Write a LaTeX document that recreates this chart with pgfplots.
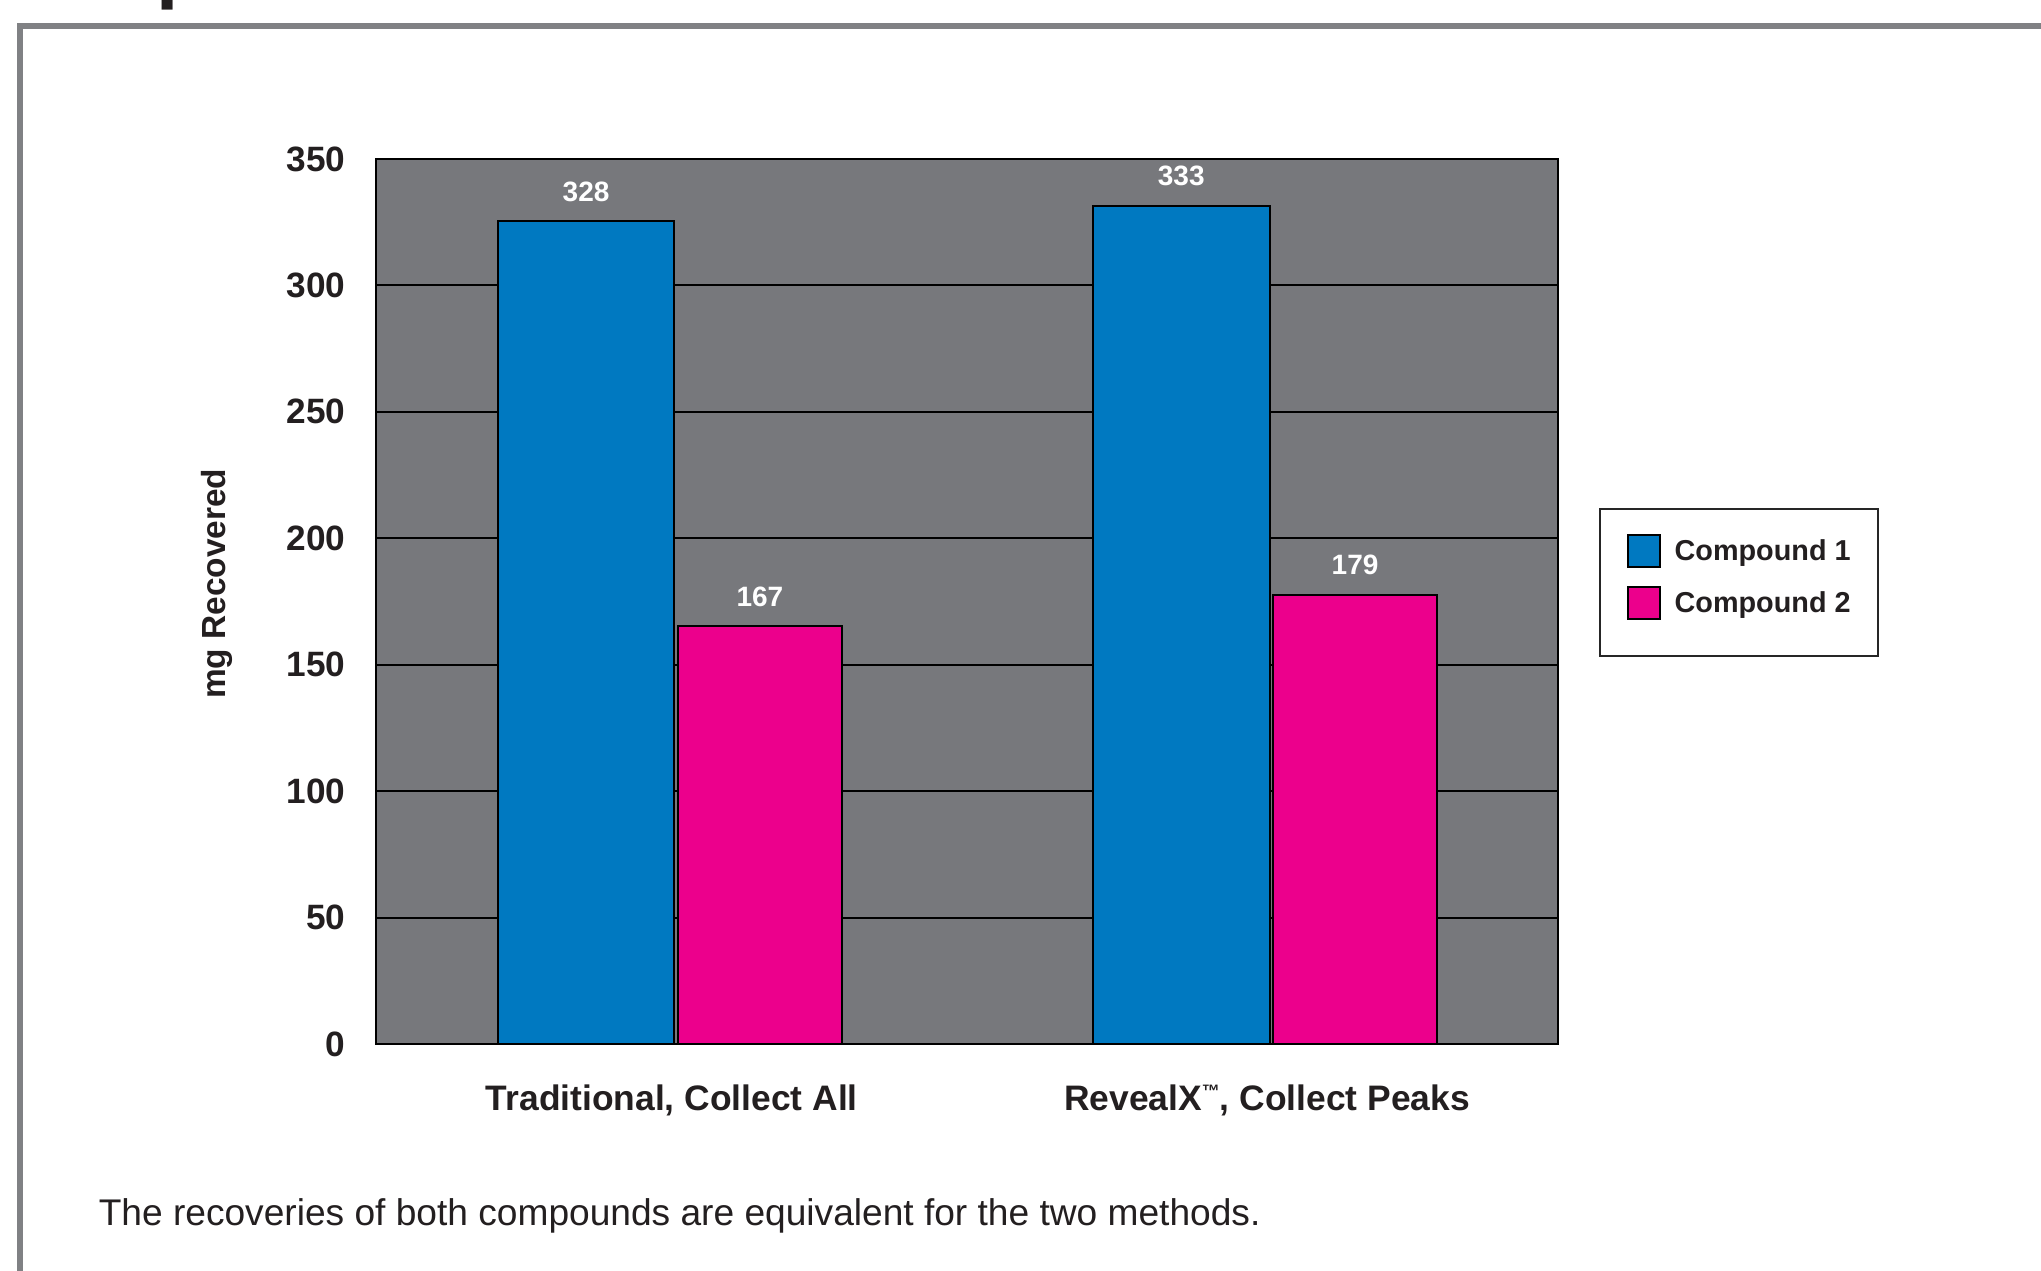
\documentclass[border=0pt]{standalone}
\usepackage{fontspec}
\setmainfont{Liberation Sans}
\usepackage{pgfplots}
\pgfplotsset{compat=1.18}
\definecolor{plotgray}{RGB}{119,120,124}
\definecolor{cblue}{RGB}{0,121,193}
\definecolor{cpink}{RGB}{236,0,140}
\definecolor{framegray}{RGB}{128,129,132}
\definecolor{txt}{RGB}{35,31,32}
\begin{document}
\begin{tikzpicture}
\useasboundingbox (0,0) rectangle (510.25pt,317.75pt);
\fill[white] (0,0) rectangle (510.25pt,317.75pt);
\draw[framegray, line width=1.5pt] (520pt,311.25pt) -- (4.9pt,311.25pt) -- (4.9pt,-10pt);
\node[anchor=base west, inner sep=0pt, font=\bfseries\fontsize{20}{24}\selectfont, text=txt] at (38.85pt,319.25pt) {p};
\begin{axis}[
  at={(94pt,56.75pt)}, anchor=south west,
  scale only axis, width=295.5pt, height=221.25pt,
  xmin=-0.497, xmax=1.489, ymin=0, ymax=350,
  ybar,
  axis background/.style={fill=plotgray},
  axis line style={black, line width=0.6pt},
  ytick={0,50,...,350},
  xtick={0,1},
  xticklabels={{Traditional, Collect All},{RevealX\raisebox{3.3pt}{\fontsize{4.5}{5}\selectfont ™}, Collect Peaks}},
  major tick length=0pt,
  ymajorgrids, grid style={black, line width=0.5pt},
  /pgf/number format/assume math mode=true,
  yticklabel style={font=\bfseries\fontsize{8.8}{10}\selectfont, text=txt, anchor=east, inner sep=0pt, xshift=-7.5pt},
  xticklabel style={font=\bfseries\fontsize{8.85}{10}\selectfont, text=txt, anchor=north, inner sep=0pt, yshift=-10pt},
  ylabel={mg Recovered},
  ylabel style={at={(axis description cs:-0.1345,0.52)}, anchor=center, font=\bfseries\fontsize{8.35}{10}\selectfont, text=txt},
  point meta=explicit,
  nodes near coords,
  nodes near coords style={font=\bfseries\fontsize{7}{8}\selectfont, text=white, anchor=south, yshift=1.4pt},
  legend style={at={(1.0347,0.6056)}, anchor=north west, draw=black!85, line width=0.6pt, fill=white,
    font=\bfseries\fontsize{7.2}{8.5}\selectfont, text=txt, inner xsep=6.8pt, inner ysep=6.2pt,
    row sep=1.55pt, nodes={inner sep=0pt}, /tikz/every odd column/.append style={column sep=3.3pt}},
  legend cell align=left,
  legend image code/.code={\draw[#1, draw=black, line width=0.5pt] (0pt,-3.5pt) rectangle (8pt,4.5pt); \path (0pt,-6.4pt);},
]
\addplot[fill=cblue, draw=black, line width=0.5pt, bar width=0.297, bar shift=-0.144] coordinates {(0,325.3) [328] (1,331.5) [333]};
\addlegendentry{Compound 1}
\addplot[fill=cpink, draw=black, line width=0.5pt, bar width=0.276, bar shift=0.148] coordinates {(0,165.2) [167] (1,177.6) [179]};
\addlegendentry{Compound 2}
\end{axis}
\node[anchor=base west, inner sep=0pt, font=\fontsize{9.28}{11}\selectfont, text=txt] at (24.5pt,11.25pt) {The recoveries of both compounds are equivalent for the two methods.};
\end{tikzpicture}
\end{document}
